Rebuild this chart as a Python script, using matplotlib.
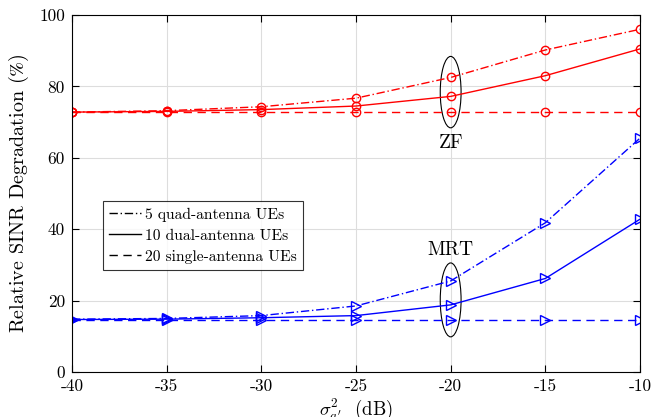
import numpy as np
import matplotlib.pyplot as plt
from matplotlib.patches import Ellipse

plt.rcParams['font.family'] = ['cmr10', 'DejaVu Serif']
plt.rcParams['mathtext.fontset'] = 'cm'
plt.rcParams['axes.unicode_minus'] = False
plt.rcParams['axes.formatter.use_mathtext'] = False

# === Data ===
noise_db = [-40, -35, -30, -25, -20, -15, -10]

zf_quad = [72.8, 73.2, 74.3, 76.7, 82.5, 90.2, 96.0]
zf_dual = [72.8, 73.0, 73.5, 74.5, 77.2, 83.0, 90.5]
zf_single = [72.7, 72.7, 72.7, 72.7, 72.7, 72.7, 72.7]

mrt_quad = [14.8, 15.0, 15.8, 18.5, 25.5, 41.8, 65.5]
mrt_dual = [14.7, 14.8, 15.2, 15.8, 18.8, 26.2, 42.8]
mrt_single = [14.6, 14.6, 14.6, 14.6, 14.6, 14.6, 14.6]

legend_labels = ["5 quad-antenna UEs", "10 dual-antenna UEs", "20 single-antenna UEs"]

# === Plot ===
fig = plt.figure(figsize=(6.57, 4.17), dpi=100)
ax = fig.add_axes([72 / 657, 1 - 372 / 417, 568 / 657, 357 / 417])

styles = [(0, (6, 2, 1, 2)), "-", (0, (6, 4))]
for ys, ls in zip([zf_quad, zf_dual, zf_single], styles):
    ax.plot(noise_db, ys, color="red", linestyle=ls, linewidth=1.0,
            marker="o", markersize=6, markerfacecolor="none", markeredgewidth=1.0)
for ys, ls in zip([mrt_quad, mrt_dual, mrt_single], styles):
    ax.plot(noise_db, ys, color="blue", linestyle=ls, linewidth=1.0,
            marker=">", markersize=7, markerfacecolor="none", markeredgewidth=1.0)

# legend with black lines
handles = [ax.plot([], [], color="black", linestyle=ls, linewidth=1.0)[0] for ls in styles]
leg = ax.legend(handles, legend_labels, loc="upper left", bbox_to_anchor=(0.055, 0.478),
                fontsize=11.2, frameon=True, fancybox=False, edgecolor="black",
                handlelength=2.0, handletextpad=0.3, borderpad=0.4, labelspacing=0.45,
                borderaxespad=0)
leg.get_frame().set_linewidth(0.8)

# annotations
ax.add_patch(Ellipse((-20, 78.4), 1.1, 20, fill=False, edgecolor="black", linewidth=0.8))
ax.text(-20, 64, "ZF", ha="center", va="center", fontsize=14)
ax.add_patch(Ellipse((-20, 20.2), 1.1, 20.7, fill=False, edgecolor="black", linewidth=0.8))
ax.text(-20, 34.3, "MRT", ha="center", va="center", fontsize=14)

ax.set_xlim(-40, -10)
ax.set_ylim(0, 100)
ax.set_xticks(noise_db)
ax.set_yticks(np.arange(0, 101, 20))
ax.tick_params(direction="in", top=True, right=True, labelsize=12.5, length=5, pad=5)
ax.grid(True, color="#dddddd", linewidth=0.8)
ax.set_axisbelow(True)
ax.set_xlabel(r"$\sigma^2_{a'}$  (dB)", fontsize=13.5, labelpad=1)
ax.set_ylabel(r"Relative SINR Degradation ($\%$)", fontsize=14.5, labelpad=6,
              math_fontfamily="stix")
for s in ax.spines.values():
    s.set_linewidth(0.8)

plt.savefig("out.png", dpi=100)
